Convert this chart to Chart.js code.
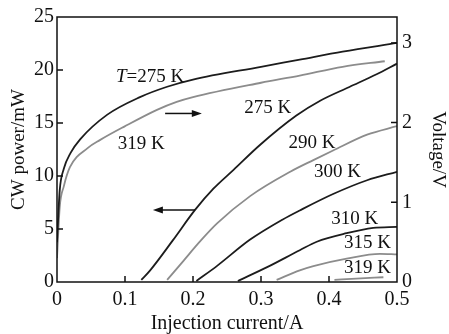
<!DOCTYPE html>
<html>
<head>
<meta charset="utf-8">
<script src="https://cdn.jsdelivr.net/npm/chart.js@4.4.0/dist/chart.umd.min.js"></script>
<style>
  html, body { margin: 0; padding: 0; background: #fff; }
</style>
</head>
<body>
<canvas id="myChart" width="449" height="334"></canvas>
<script>
// tick values
const currentTicks = [0, 0.1, 0.2, 0.3, 0.4, 0.5];
const powerTicks = [0, 5, 10, 15, 20, 25];
const voltageTicks = [0, 1, 2, 3];

// voltage curves (right axis), 275 K and 319 K
const v275Current = [0, 0.004, 0.01, 0.02, 0.034, 0.074, 0.122, 0.162, 0.2, 0.3, 0.357, 0.42, 0.5];
const v275Volt    = [0.5, 1.15, 1.42, 1.62, 1.79, 2.10, 2.32, 2.45, 2.54, 2.70, 2.79, 2.89, 3.0];
const v319Current = [0, 0.004, 0.01, 0.019, 0.045, 0.063, 0.099, 0.147, 0.176, 0.2, 0.3, 0.357, 0.42, 0.482];
const v319Volt    = [0.3, 0.94, 1.2, 1.44, 1.68, 1.78, 1.95, 2.16, 2.26, 2.32, 2.50, 2.59, 2.70, 2.77];

// CW power curves (left axis)
const p275Current = [0.124, 0.137, 0.17, 0.203, 0.23, 0.26, 0.298, 0.352, 0.387, 0.43, 0.47, 0.5];
const p275Power   = [0.2, 1.1, 3.9, 6.8, 8.8, 10.6, 12.9, 15.7, 17.1, 18.4, 19.6, 20.6];
const p290Current = [0.162, 0.186, 0.21, 0.235, 0.284, 0.343, 0.377, 0.406, 0.456, 0.5];
const p290Power   = [0.2, 2.0, 3.8, 5.5, 8.1, 10.4, 11.5, 12.4, 13.9, 14.7];
const p300Current = [0.205, 0.235, 0.284, 0.332, 0.357, 0.406, 0.456, 0.5];
const p300Power   = [0.1, 1.5, 4.0, 5.9, 6.75, 8.3, 9.6, 10.4];
const p310Current = [0.266, 0.309, 0.357, 0.382, 0.426, 0.465, 0.5];
const p310Power   = [0.1, 1.4, 3.0, 3.8, 4.6, 5.1, 5.2];
const p315Current = [0.323, 0.357, 0.377, 0.426, 0.475, 0.5];
const p315Power   = [0.2, 1.1, 1.5, 2.2, 2.65, 2.6];
const p319Current = [0.408, 0.44, 0.48];
const p319Power   = [0.2, 0.32, 0.45];

// curve labels, placed in data units (current, power)
const labelTexts = ['319 K', '275 K', '290 K', '300 K', '310 K', '315 K', '319 K'];
const labelCurrent = [0.124, 0.31, 0.375, 0.4125, 0.438, 0.4566, 0.4566];
const labelPower = [13.0, 16.4, 13.1, 10.4, 5.9, 3.7, 1.3];

const DARK = '#1c1c1c';
const GRAY = '#8c8c8c';
const FONT = '"Liberation Serif", "Times New Roman", serif';

function pts(xs, ys) {
  return xs.map((x, i) => ({ x: x, y: ys[i] }));
}

function curve(xs, ys, color, axis) {
  return {
    data: pts(xs, ys),
    borderColor: color,
    borderWidth: 1.8,
    yAxisID: axis,
    pointRadius: 0,
    cubicInterpolationMode: 'monotone',
    fill: false
  };
}

// frame, inward ticks, curve labels and arrows
const decorations = {
  id: 'decorations',
  afterDatasetsDraw(chart) {
    const ctx = chart.ctx;
    const a = chart.chartArea;
    const sx = chart.scales.x, sy = chart.scales.y, sv = chart.scales.y1;
    ctx.save();
    ctx.strokeStyle = '#111';
    ctx.lineWidth = 1.5;
    ctx.strokeRect(a.left, a.top, a.right - a.left, a.bottom - a.top);

    ctx.beginPath();
    currentTicks.slice(1, -1).forEach(v => {
      const px = sx.getPixelForValue(v);
      ctx.moveTo(px, a.bottom); ctx.lineTo(px, a.bottom - 6);
    });
    powerTicks.slice(1, -1).forEach(v => {
      const py = sy.getPixelForValue(v);
      ctx.moveTo(a.left, py); ctx.lineTo(a.left + 6, py);
    });
    voltageTicks.slice(1).forEach(v => {
      const py = sv.getPixelForValue(v);
      ctx.moveTo(a.right, py); ctx.lineTo(a.right - 6, py);
    });
    ctx.stroke();

    // labels
    ctx.fillStyle = '#111';
    ctx.textBaseline = 'middle';
    ctx.font = '19px ' + FONT;
    ctx.textAlign = 'center';
    labelTexts.forEach((t, i) => {
      ctx.fillText(t, sx.getPixelForValue(labelCurrent[i]), sy.getPixelForValue(labelPower[i]));
    });

    // "T=275 K" with italic T
    ctx.textAlign = 'left';
    ctx.font = 'italic 19px ' + FONT;
    const wT = ctx.measureText('T').width;
    ctx.font = '19px ' + FONT;
    const rest = '=275 K';
    const wR = ctx.measureText(rest).width;
    const cx = sx.getPixelForValue(0.137), cy = sy.getPixelForValue(19.3);
    const x0 = cx - (wT + wR) / 2;
    ctx.font = 'italic 19px ' + FONT;
    ctx.fillText('T', x0, cy);
    ctx.font = '19px ' + FONT;
    ctx.fillText(rest, x0 + wT, cy);

    // arrows
    function arrow(xFrom, yFrom, xTo) {
      const x1 = sx.getPixelForValue(xFrom), x2 = sx.getPixelForValue(xTo);
      const y = sy.getPixelForValue(yFrom);
      const dir = Math.sign(x2 - x1);
      ctx.beginPath();
      ctx.lineWidth = 1.5;
      ctx.moveTo(x1, y); ctx.lineTo(x2 - dir * 6, y);
      ctx.stroke();
      ctx.beginPath();
      ctx.moveTo(x2, y);
      ctx.lineTo(x2 - dir * 10, y - 3.5);
      ctx.lineTo(x2 - dir * 10, y + 3.5);
      ctx.closePath();
      ctx.fill();
    }
    arrow(0.159, 15.9, 0.213);
    arrow(0.203, 6.8, 0.141);
    ctx.restore();
  }
};

const ctx = document.getElementById('myChart');

new Chart(ctx, {
  type: 'line',
  data: {
    datasets: [
      curve(v275Current, v275Volt, DARK, 'y1'),
      curve(v319Current, v319Volt, GRAY, 'y1'),
      curve(p275Current, p275Power, DARK, 'y'),
      curve(p290Current, p290Power, GRAY, 'y'),
      curve(p300Current, p300Power, DARK, 'y'),
      curve(p310Current, p310Power, DARK, 'y'),
      curve(p315Current, p315Power, GRAY, 'y'),
      curve(p319Current, p319Power, GRAY, 'y')
    ]
  },
  options: {
    responsive: false,
    animation: false,
    devicePixelRatio: 1,
    layout: { padding: { top: 17, left: 0, right: 0, bottom: 0 } },
    plugins: { legend: { display: false }, tooltip: { enabled: false } },
    scales: {
      x: {
        type: 'linear',
        min: 0,
        max: 0.5,
        afterBuildTicks: s => { s.ticks = currentTicks.map(v => ({ value: v })); },
        afterFit: s => { s.height = 52; },
        grid: { display: false, drawTicks: false },
        border: { display: false },
        ticks: {
          color: '#111',
          padding: 6,
          font: { family: FONT, size: 20 },
          callback: v => (v === 0 ? '0' : v.toFixed(1))
        },
        title: {
          display: true,
          text: 'Injection current/A',
          color: '#111',
          padding: 0,
          font: { family: FONT, size: 20, lineHeight: 1 }
        }
      },
      y: {
        position: 'left',
        min: 0,
        max: 25,
        afterBuildTicks: s => { s.ticks = powerTicks.map(v => ({ value: v })); },
        afterFit: s => { s.width = 57; },
        grid: { display: false, drawTicks: false },
        border: { display: false },
        ticks: {
          color: '#111',
          padding: 3,
          font: { family: FONT, size: 20 }
        },
        title: {
          display: true,
          text: 'CW power/mW',
          color: '#111',
          padding: { top: 8, bottom: 0 },
          font: { family: FONT, size: 19 }
        }
      },
      y1: {
        position: 'right',
        min: 0,
        max: 3.325,
        afterBuildTicks: s => { s.ticks = voltageTicks.map(v => ({ value: v })); },
        afterFit: s => { s.width = 52; },
        grid: { display: false, drawTicks: false },
        border: { display: false },
        ticks: {
          color: '#111',
          padding: 5,
          font: { family: FONT, size: 20 }
        },
        title: {
          display: true,
          text: 'Voltage/V',
          color: '#111',
          padding: 0,
          font: { family: FONT, size: 19 }
        }
      }
    }
  },
  plugins: [decorations]
});
</script>
</body>
</html>
